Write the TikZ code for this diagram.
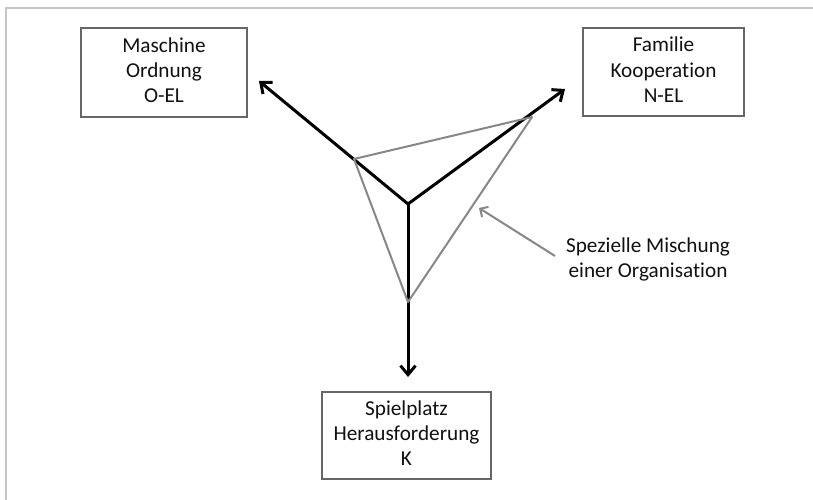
\documentclass[tikz,border=0pt]{standalone}
\usepackage{fontspec}
\setmainfont{Carlito}[Ligatures=NoCommon]
\usetikzlibrary{arrows.meta}
\definecolor{framegray}{HTML}{C6C6C6}
\definecolor{boxgray}{HTML}{666666}
\definecolor{trigray}{HTML}{878787}
\definecolor{txt}{HTML}{111111}
\begin{document}
\begin{tikzpicture}[x=1bp,y=-1bp,
  box/.style={draw=boxgray, line width=2.7bp, fill=white, align=center,
    font=\fontsize{21.3}{25.5}\selectfont, inner sep=0pt, text=txt},
  lbl/.style={align=center, font=\fontsize{21.3}{25.5}\selectfont, inner sep=0pt, text=txt},
  axis/.style={line width=3bp, -{Straight Barb[length=9bp,width=15bp]}},
  tri/.style={draw=trigray, line width=2bp, line join=round},
  pointer/.style={draw=trigray, line width=2bp, -{Straight Barb[length=6bp,width=12bp]}}]
\useasboundingbox (0,0) rectangle (813,500);
\draw[framegray, line width=2bp] (5.5,500) -- (5.5,8) -- (813,8);

\node[box, minimum width=166bp, minimum height=89bp] (ma) at (164,72.5)
  {\strut Maschine\\Ordnung\\O-EL\strut};
\node[box, minimum width=161bp, minimum height=88bp] (fa) at (663.5,72)
  {\strut Familie\\Kooperation\\N-EL\strut};
\node[box, minimum width=169bp, minimum height=87bp] (sp) at (406.5,435.5)
  {\strut Spielplatz\\Herausforderung\\K\strut};
\node[lbl] (lab) at (648,260) {\strut Spezielle Mischung\\einer Organisation\strut};

\coordinate (C) at (408,204);
\coordinate (TL) at (259,81);
\coordinate (TR) at (565,89);
\coordinate (BT) at (408,377);
\draw[axis] (C) -- (TL);
\draw[axis] (C) -- (TR);
\draw[axis] (C) -- (BT);

\coordinate (P1) at (354,159);
\coordinate (P2) at (532,117);
\coordinate (P3) at (408,302);
\draw[tri] (P1) -- (P2) -- (P3) -- cycle;

\coordinate (PS) at (555,256);
\coordinate (PT) at (479,208);
\draw[pointer] (PS) -- (PT);
\end{tikzpicture}
\end{document}
